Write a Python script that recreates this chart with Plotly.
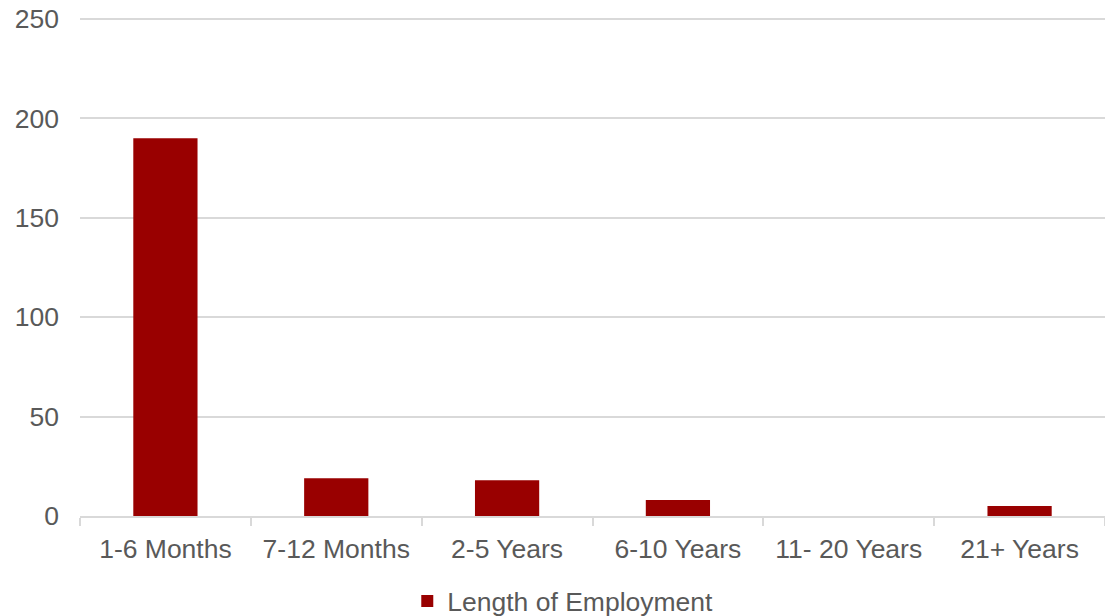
import plotly.graph_objects as go

categories = ["1-6 Months", "7-12 Months", "2-5 Years", "6-10 Years", "11- 20 Years", "21+ Years"]
values = [190, 19, 18, 8, 0, 5]
series_name = "Length of Employment"
y_ticks = [0, 50, 100, 150, 200, 250]

text_color = "#595959"
grid_color = "#d9d9d9"
bar_color = "#990000"
font_family = "Liberation Sans, Arial, sans-serif"
fs = 26.5

fig = go.Figure()
fig.add_trace(go.Bar(x=categories, y=values, name=series_name,
                     marker=dict(color=bar_color, line=dict(width=0))))

fig.update_layout(
    width=1105, height=616,
    margin=dict(l=80, r=0, t=17, b=100, autoexpand=False),
    plot_bgcolor="white", paper_bgcolor="white",
    bargap=0.624,
    font=dict(family=font_family, size=fs, color=text_color),
    showlegend=True,
    legend=dict(orientation="h", x=0.471, xanchor="center", y=-0.171, yanchor="middle",
                font=dict(size=fs, color=text_color), itemwidth=30),
    xaxis=dict(showline=True, linecolor=grid_color, linewidth=2, automargin=False,
               ticks="outside", tickson="boundaries", ticklen=8, tickcolor=grid_color, tickwidth=2,
               ticklabelstandoff=8,
               showgrid=False, tickfont=dict(size=fs, color=text_color)),
    yaxis=dict(range=[0, 251], tickvals=y_ticks, showgrid=True, gridcolor=grid_color, gridwidth=2,
               zeroline=False, showline=False, ticks="", ticklabelstandoff=20, automargin=False,
               tickfont=dict(size=fs, color=text_color)),
)

fig.write_html("out.html", config={"displayModeBar": False},
               post_script="document.body.style.margin='0';document.body.style.overflow='hidden';")
